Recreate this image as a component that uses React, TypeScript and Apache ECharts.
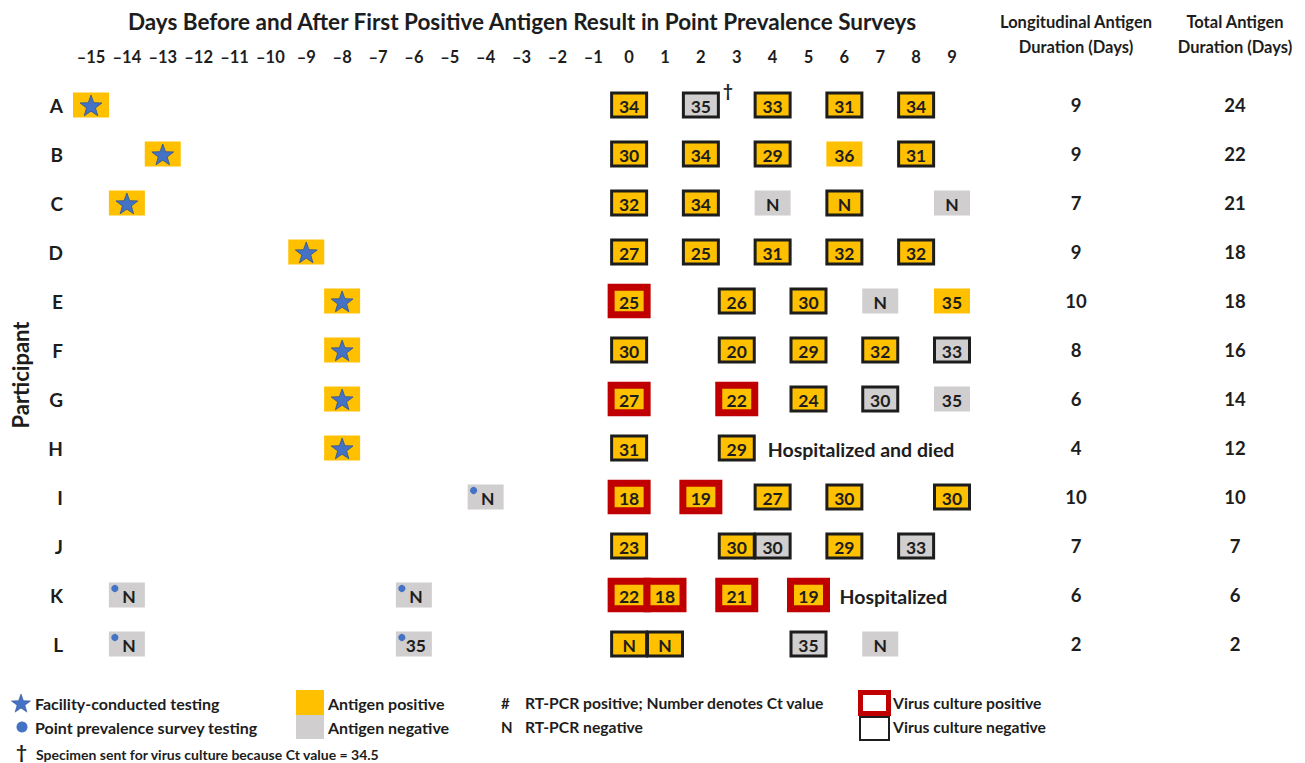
import React, { useEffect, useRef } from "react";
import * as echarts from "echarts";

// ---------- data ----------
const participants = ["A", "B", "C", "D", "E", "F", "G", "H", "I", "J", "K", "L"];
const dayMin = -15;
const dayMax = 9;
const title = "Days Before and After First Positive Antigen Result in Point Prevalence Surveys";
const durationHeaders = ["Longitudinal Antigen\nDuration (Days)", "Total Antigen\nDuration (Days)"];
const longitudinalDuration = [9, 9, 7, 9, 10, 8, 6, 4, 10, 7, 6, 2];
const totalDuration = [24, 22, 21, 18, 18, 16, 14, 12, 10, 7, 6, 2];

// facility-conducted antigen tests (all antigen positive): [participant, day]
const facilityTests: [string, number][] = [
  ["A", -15], ["B", -13], ["C", -14], ["D", -9], ["E", -8], ["F", -8], ["G", -8], ["H", -8],
];

// early point prevalence survey tests: [participant, day, antigen P/N, RT-PCR (Ct or N), culture +/-/""]
const earlySurveyTests: [string, number, string, string, string][] = [
  ["I", -4, "N", "N", ""],
  ["K", -14, "N", "N", ""], ["K", -6, "N", "N", ""],
  ["L", -14, "N", "N", ""], ["L", -6, "N", "35", ""],
];

// survey tests from first positive antigen onward
const followUpTests: [string, number, string, string, string][] = [
  ["A", 0, "P", "34", "-"], ["A", 2, "N", "35", "-"], ["A", 4, "P", "33", "-"], ["A", 6, "P", "31", "-"], ["A", 8, "P", "34", "-"],
  ["B", 0, "P", "30", "-"], ["B", 2, "P", "34", "-"], ["B", 4, "P", "29", "-"], ["B", 6, "P", "36", ""], ["B", 8, "P", "31", "-"],
  ["C", 0, "P", "32", "-"], ["C", 2, "P", "34", "-"], ["C", 4, "N", "N", ""], ["C", 6, "P", "N", "-"], ["C", 9, "N", "N", ""],
  ["D", 0, "P", "27", "-"], ["D", 2, "P", "25", "-"], ["D", 4, "P", "31", "-"], ["D", 6, "P", "32", "-"], ["D", 8, "P", "32", "-"],
  ["E", 0, "P", "25", "+"], ["E", 3, "P", "26", "-"], ["E", 5, "P", "30", "-"], ["E", 7, "N", "N", ""], ["E", 9, "P", "35", ""],
  ["F", 0, "P", "30", "-"], ["F", 3, "P", "20", "-"], ["F", 5, "P", "29", "-"], ["F", 7, "P", "32", "-"], ["F", 9, "N", "33", "-"],
  ["G", 0, "P", "27", "+"], ["G", 3, "P", "22", "+"], ["G", 5, "P", "24", "-"], ["G", 7, "N", "30", "-"], ["G", 9, "N", "35", ""],
  ["H", 0, "P", "31", "-"], ["H", 3, "P", "29", "-"],
  ["I", 0, "P", "18", "+"], ["I", 2, "P", "19", "+"], ["I", 4, "P", "27", "-"], ["I", 6, "P", "30", "-"], ["I", 9, "P", "30", "-"],
  ["J", 0, "P", "23", "-"], ["J", 3, "P", "30", "-"], ["J", 4, "N", "30", "-"], ["J", 6, "P", "29", "-"], ["J", 8, "N", "33", "-"],
  ["K", 0, "P", "22", "+"], ["K", 1, "P", "18", "+"], ["K", 3, "P", "21", "+"], ["K", 5, "P", "19", "+"],
  ["L", 0, "P", "N", "-"], ["L", 1, "P", "N", "-"], ["L", 5, "N", "35", "-"], ["L", 7, "N", "N", ""],
];

// specimens sent for culture because Ct = 34.5 (dagger): [participant, day]
const daggerTests: [string, number][] = [["A", 2]];

// outcome notes placed after the last test: [participant, last day, text]
const outcomeNotes: [string, number, string][] = [
  ["H", 3, "Hospitalized and died"],
  ["K", 5, "Hospitalized"],
];

// ---------- styles ----------
const ORANGE = "#FFC000";
const GRAY = "#D0CECE";
const RED = "#C00000";
const INK = "#1d1d1d";
const BLUE = "#4472C4";
const BLUE_DARK = "#2F528F";
const FONT = "Lato";

function starPoints(cx: number, cy: number, R: number, r: number) {
  const pts: number[][] = [];
  for (let i = 0; i < 10; i++) {
    const rad = i % 2 === 0 ? R : r;
    const a = -Math.PI / 2 + (i * Math.PI) / 5;
    pts.push([cx + rad * Math.cos(a), cy + rad * Math.sin(a)]);
  }
  return pts;
}

type CellRec = { p: string; day: number; antigen: string; pcr: string; culture: string; marker: string; dagger: boolean };

const allCells: CellRec[] = [
  ...facilityTests.map(([p, day]) => ({ p, day, antigen: "P", pcr: "", culture: "", marker: "star", dagger: false })),
  ...earlySurveyTests.map(([p, day, antigen, pcr, culture]) => ({ p, day, antigen, pcr, culture, marker: "dot", dagger: false })),
  ...followUpTests.map(([p, day, antigen, pcr, culture]) => ({
    p, day, antigen, pcr, culture, marker: "",
    dagger: daggerTests.some(([dp, dd]) => dp === p && dd === day),
  })),
];

function txt(x: number, y: number, text: string, size: number, align = "center", extra: any = {}) {
  return {
    type: "text",
    x, y,
    silent: true,
    style: {
      text, fill: INK, font: `bold ${size}px ${FONT}`,
      align, verticalAlign: "middle", textAlign: align, textVerticalAlign: "middle",
      ...extra,
    },
  };
}

export default function App() {
  const ref = useRef<HTMLDivElement>(null);
  useEffect(() => {
    if (!ref.current) return;
    const chart = echarts.init(ref.current, null, { renderer: "svg" });

    const cellSeries = {
      type: "custom",
      xAxisIndex: 0,
      yAxisIndex: 0,
      clip: false,
      silent: true,
      data: allCells.map((c) => [c.day, c.p]),
      encode: { x: 0, y: 1 },
      renderItem: (params: any, api: any) => {
        const c = allCells[params.dataIndex];
        const [cx, cy] = api.coord([api.value(0), api.value(1)]);
        const fill = c.antigen === "P" ? ORANGE : GRAY;
        const children: any[] = [];
        if (c.culture === "+") {
          children.push({ type: "rect", shape: { x: cx - 18, y: cy - 13.75, width: 36, height: 27.5 }, style: { fill, stroke: RED, lineWidth: 7 } });
        } else if (c.culture === "-") {
          children.push({ type: "rect", shape: { x: cx - 17.5, y: cy - 12, width: 35, height: 24 }, style: { fill, stroke: INK, lineWidth: 3 } });
        } else {
          children.push({ type: "rect", shape: { x: cx - 18, y: cy - 12.5, width: 36, height: 25 }, style: { fill } });
        }
        if (c.marker === "star") {
          children.push({ type: "polygon", shape: { points: starPoints(cx, cy + 1.5, 11.5, 4.7) }, style: { fill: BLUE, stroke: BLUE_DARK, lineWidth: 0.8 } });
        }
        if (c.marker === "dot") {
          children.push({ type: "circle", shape: { cx: cx - 12, cy: cy - 6.5, r: 3.6 }, style: { fill: BLUE } });
        }
        if (c.pcr) {
          children.push(txt(cx + (c.marker === "dot" ? 2 : 0), cy + 1, c.pcr, 17.5));
        }
        if (c.dagger) {
          children.push(txt(cx + 22, cy - 15, "†", 17, "left"));
        }
        return { type: "group", children };
      },
    };

    const noteSeries = {
      type: "custom",
      xAxisIndex: 0,
      yAxisIndex: 0,
      clip: false,
      silent: true,
      data: outcomeNotes.map(([p, day]) => [day, p]),
      encode: { x: 0, y: 1 },
      renderItem: (params: any, api: any) => {
        const [cx, cy] = api.coord([api.value(0), api.value(1)]);
        return txt(cx + 31, cy + 1, outcomeNotes[params.dataIndex][2], 19.5, "left");
      },
    };

    const durationData: any[] = [];
    participants.forEach((p, i) => {
      durationData.push([0, p, longitudinalDuration[i]]);
      durationData.push([1, p, totalDuration[i]]);
    });
    const durationSeries = {
      type: "custom",
      xAxisIndex: 1,
      yAxisIndex: 1,
      clip: false,
      silent: true,
      data: durationData,
      encode: { x: 0, y: 1 },
      renderItem: (params: any, api: any) => {
        const [cx, cy] = api.coord([api.value(0), api.value(1)]);
        return txt(cx, cy, String(durationData[params.dataIndex][2]), 18.5);
      },
    };

    const legend: any[] = [
      { type: "polygon", shape: { points: starPoints(21, 704, 10, 4.1) }, style: { fill: BLUE, stroke: BLUE_DARK, lineWidth: 0.6 } },
      txt(35, 703, "Facility-conducted testing", 16, "left"),
      { type: "circle", shape: { cx: 22, cy: 727, r: 5.5 }, style: { fill: BLUE } },
      txt(35, 727, "Point prevalence survey testing", 16, "left"),
      txt(16, 751, "†", 19, "left"),
      txt(36, 754, "Specimen sent for virus culture because Ct value = 34.5", 14, "left"),
      { type: "rect", shape: { x: 296, y: 690, width: 28, height: 25 }, style: { fill: ORANGE } },
      { type: "rect", shape: { x: 296, y: 715, width: 28, height: 24 }, style: { fill: GRAY } },
      txt(328, 703, "Antigen positive", 16, "left"),
      txt(328, 727, "Antigen negative", 16, "left"),
      txt(501, 703, "#", 15, "left"),
      txt(525, 703, "RT-PCR positive; Number denotes Ct value", 15.7, "left"),
      txt(501, 727, "N", 15, "left"),
      txt(525, 727, "RT-PCR negative", 15.7, "left"),
      { type: "rect", shape: { x: 860.5, y: 692.5, width: 28, height: 21 }, style: { fill: "#fff", stroke: RED, lineWidth: 5 } },
      { type: "rect", shape: { x: 860, y: 717, width: 29, height: 23 }, style: { fill: "none", stroke: INK, lineWidth: 2 } },
      txt(893, 703, "Virus culture positive", 15.7, "left"),
      txt(893, 727, "Virus culture negative", 15.7, "left"),
    ];

    const option: any = {
      animation: false,
      backgroundColor: "#fff",
      textStyle: { fontFamily: FONT },
      grid: [
        { left: 91, top: 80.5, width: 861, height: 588 },
        { left: 1076, top: 80.5, width: 159, height: 588 },
      ],
      xAxis: [
        {
          type: "value", gridIndex: 0, position: "top", min: dayMin, max: dayMax, interval: 1,
          axisLine: { show: false }, axisTick: { show: false }, splitLine: { show: false },
          axisLabel: {
            formatter: (v: number) => (v < 0 ? "–" + -v : String(v)),
            fontWeight: "bold", fontSize: 16.5, color: INK, margin: 15, fontFamily: FONT,
          },
        },
        {
          type: "value", gridIndex: 1, position: "top", min: 0, max: 1, interval: 1,
          axisLine: { show: false }, axisTick: { show: false }, splitLine: { show: false },
          axisLabel: {
            formatter: (v: number) => durationHeaders[v] ?? "",
            fontWeight: "bold", fontSize: 16.5, lineHeight: 25, color: INK, margin: 21, fontFamily: FONT,
          },
        },
      ],
      yAxis: [
        {
          type: "category", gridIndex: 0, data: participants, inverse: true,
          axisLine: { show: false }, axisTick: { show: false }, splitLine: { show: false },
          axisLabel: { fontWeight: "bold", fontSize: 19, color: INK, margin: 28, fontFamily: FONT },
        },
        {
          type: "category", gridIndex: 1, data: participants, inverse: true, show: false,
        },
      ],
      graphic: [
        txt(522, 21, title, 22.5),
        { ...txt(20, 375, "Participant", 22), rotation: Math.PI / 2 },
        ...legend,
      ],
      series: [cellSeries, noteSeries, durationSeries],
    };
    chart.setOption(option);
    return () => chart.dispose();
  }, []);
  return <div ref={ref} style={{ position: "fixed", left: 0, top: 0, width: 1305, height: 763 }} />;
}
